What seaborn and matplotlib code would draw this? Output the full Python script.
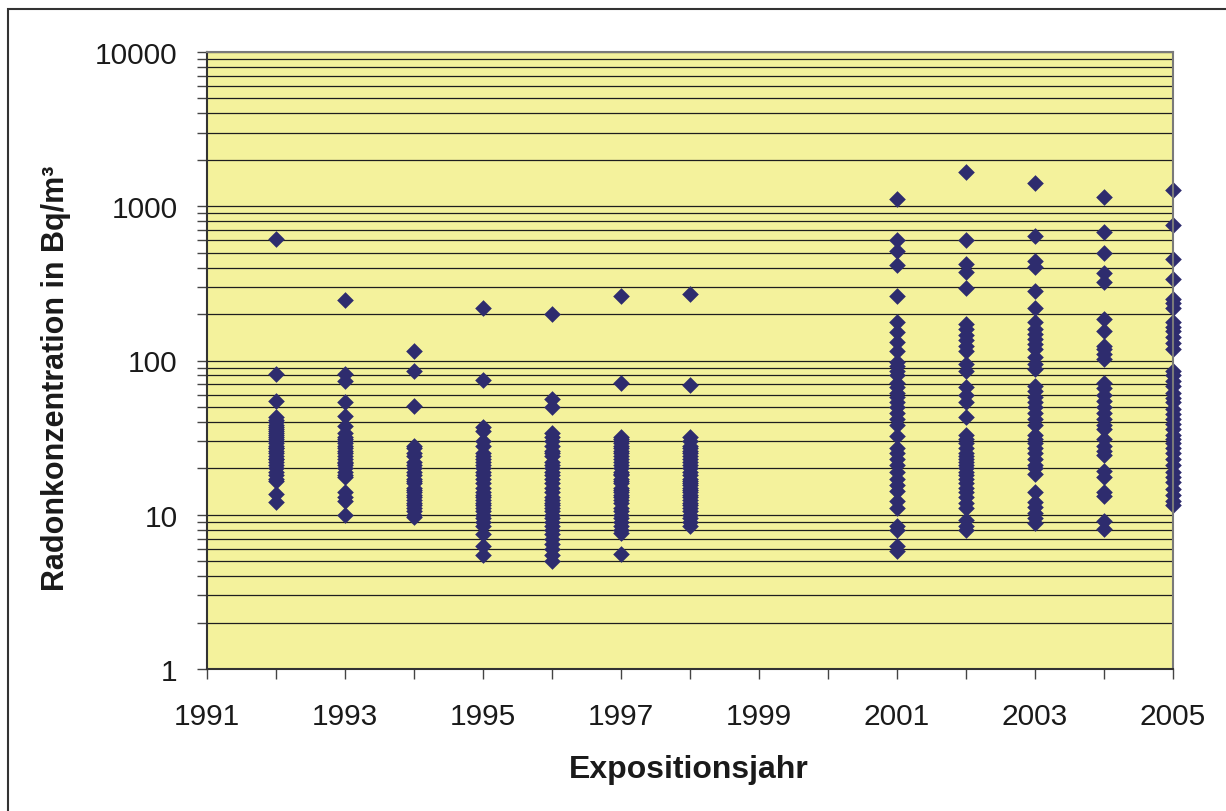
import matplotlib
matplotlib.use("Agg")
import matplotlib.pyplot as plt
import matplotlib.ticker as mticker
from matplotlib.patches import Rectangle
import seaborn as sns
import pandas as pd
import numpy as np

# ---- data (Radon concentration, Bq/m³, per exposure year) ----
y1992 = [609, 82, 55, 43, 41, 40, 38, 37, 36, 35, 34, 33, 32, 31, 30, 29, 28, 27, 27, 26,
         25, 24, 23, 23, 22, 21, 20, 19, 18, 17, 16.5, 13.6, 12.1]
y1993 = [247, 82, 74, 54, 43.5, 37.5, 34, 32, 31, 30, 29, 28, 27, 26, 25, 24, 23, 22, 21.5,
         21, 20, 19, 18, 17.5, 14, 13, 12.3, 10]
y1994 = [116, 85, 51, 28, 27, 25, 24, 22, 21, 20, 19, 18, 17, 16.5, 16, 15, 14.5, 14, 13.5,
         13, 12.5, 12, 11.5, 11, 10.5, 10, 9.6]
y1995 = [219, 75, 37, 35, 30, 28, 25, 24, 23, 22, 21, 20, 19, 18, 17, 16, 15, 14, 13.5, 13,
         12.5, 12, 11.5, 11, 10.5, 10, 9.5, 9, 8.5, 7.5, 6.3, 5.5]
y1996 = [200, 56, 50, 34, 32, 30, 28, 26, 25, 24, 22, 21, 20, 19, 18, 17, 16, 15, 14, 13,
         12.5, 12, 11.5, 11, 10.5, 10, 9.5, 9, 8.5, 8, 7.5, 7, 6.5, 6, 5.5, 5]
y1997 = [263, 71, 32, 31, 30, 29, 28, 27, 26, 25, 24, 23, 22, 21, 20, 19, 18.5, 18, 17, 16.5,
         16, 15, 14.5, 14, 13.5, 13, 12.5, 12, 11, 10.5, 10, 9.5, 9, 8.5, 8, 7.6, 5.6]
y1998 = [270, 69, 32, 30, 28, 27, 26, 25, 24, 23, 22, 21, 20, 19, 18, 17, 16.5, 16, 15.5, 15,
         14.5, 14, 13.5, 13, 12.5, 12, 11.5, 11, 10.5, 10, 9.5, 9, 8.4]
y2001 = [1114, 607, 515, 416, 263, 177, 154, 131, 116, 98, 92, 86, 80, 72, 67, 62, 58, 54, 50,
         46, 42, 38, 32.5, 27, 25, 23, 21, 19, 17, 15.5, 14.3, 12.3, 11, 8.5, 8, 6.3, 5.8]
y2002 = [1675, 607, 422, 373, 294, 172, 160, 147, 135, 125, 116, 95, 86, 67, 60, 54, 43, 33, 31,
         29, 27, 25, 24, 23, 22, 21, 20, 19, 18, 17, 16, 15, 14, 13, 12, 11, 9.2, 8.5, 8]
y2003 = [1409, 644, 443, 402, 283, 218, 177, 160, 148, 138, 128, 118, 105, 95, 88, 68, 63, 58,
         54, 50, 46, 42, 38, 33, 31, 29, 27, 25, 23, 21, 20, 18.4, 14, 12.1, 11.2, 10.3, 9.5, 8.8]
y2004 = [1143, 678, 495, 369, 321, 186, 156, 125, 118, 110, 102, 72, 66, 60, 55, 50, 46, 42, 38,
         36, 31, 28, 26, 24.5, 19.3, 17.6, 14, 13.2, 9.15, 8.1]
y2005 = [1280, 759, 455, 337, 250, 235, 218, 177, 165, 156, 141, 130, 119, 86, 80, 74, 68, 62,
         57, 53.6, 48.5, 45, 42, 39, 36, 33, 31, 29, 27, 25, 23, 21, 19, 17.5, 16.2, 14.7, 13.5,
         12.3, 11.5]

years = [1992, 1993, 1994, 1995, 1996, 1997, 1998, 2001, 2002, 2003, 2004, 2005]
series = [y1992, y1993, y1994, y1995, y1996, y1997, y1998, y2001, y2002, y2003, y2004, y2005]

x_ticks = list(range(1991, 2006))
x_labels = [str(y) if y % 2 == 1 else "" for y in x_ticks]
y_major = [1, 10, 100, 1000, 10000]
y_labels = ["1", "10", "100", "1000", "10000"]

df = pd.DataFrame({
    "Jahr": np.concatenate([[yr] * len(v) for yr, v in zip(years, series)]),
    "Radon": np.concatenate(series),
})

# ---- style ----
sns.set_style("white")
plt.rcParams["font.family"] = ["Liberation Sans", "DejaVu Sans"]

W, H = 1226, 812
fig = plt.figure(figsize=(W / 100, H / 100), dpi=100)
ax = fig.add_axes([207 / W, 1 - 670 / H, (1173 - 207) / W, (670 - 53) / H])

YELLOW = "#f4f29c"
NAVY = "#2e2c6e"
ax.set_facecolor(YELLOW)

ax.set_yscale("log")
ax.set_ylim(1, 10000)
ax.set_xlim(1991, 2005)

# grid lines (major + minor), horizontal only
for v in y_major[:-1]:
    for m in range(1, 10):
        ax.axhline(v * m, color="#1e1e1e", lw=0.9, zorder=1)
ax.axhline(10000, color="#1e1e1e", lw=0.9, zorder=1)

sns.scatterplot(data=df, x="Jahr", y="Radon", ax=ax, marker="D", s=72,
                color=NAVY, edgecolor=NAVY, linewidth=0, zorder=3, clip_on=False,
                legend=False)

ax.yaxis.set_major_locator(mticker.FixedLocator(y_major))
ax.yaxis.set_major_formatter(mticker.FixedFormatter(y_labels))
ax.yaxis.set_minor_locator(mticker.LogLocator(base=10, subs=range(2, 10)))
ax.yaxis.set_minor_formatter(mticker.NullFormatter())
ax.set_xticks(x_ticks)
ax.set_xticklabels(x_labels)

ax.tick_params(axis="both", which="both", direction="out", color="#444444",
               width=1.0, labelsize=21.5, labelcolor="#1a1a1a")
ax.tick_params(axis="y", which="both", length=7, left=True, pad=14)
ax.tick_params(axis="x", which="major", length=7, bottom=True, pad=17)

for side in ["top", "right"]:
    ax.spines[side].set_color("#7a7a7a")
    ax.spines[side].set_linewidth(1.5)
for side in ["left", "bottom"]:
    ax.spines[side].set_color("#333333")
    ax.spines[side].set_linewidth(1.5)
for s in ax.spines.values():
    s.set_zorder(4)

ax.set_xlabel("")
ax.set_ylabel("")
fig.text(689 / W, 1 - 770 / H, "Expositionsjahr", ha="center", va="center",
         fontsize=23, fontweight="bold", color="#1a1a1a")
fig.text(56 / W, 1 - 378 / H, "Radonkonzentration in Bq/m³", ha="center", va="center",
         rotation=90, fontsize=22, fontweight="bold", color="#1a1a1a")

# outer frame
fig.patches.append(Rectangle((8 / W, -0.05), 1.2, 1 - 10 / H + 0.05,
                             transform=fig.transFigure, fill=False,
                             edgecolor="#333333", linewidth=1.5))

fig.savefig("out.png", dpi=100)
